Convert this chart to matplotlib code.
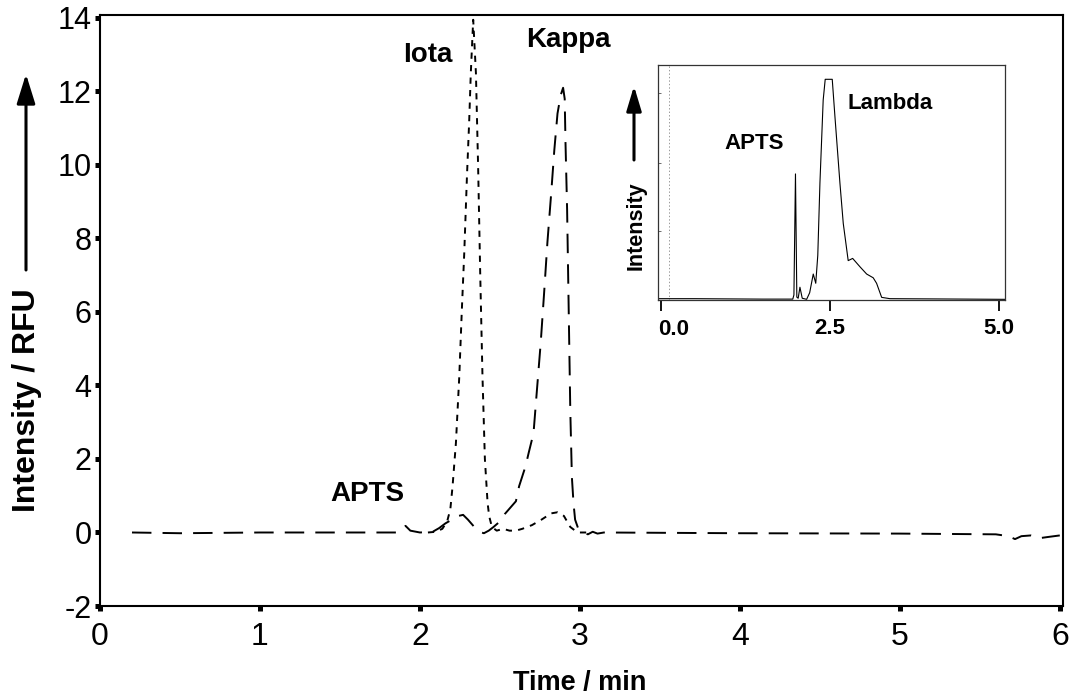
import matplotlib
matplotlib.use("Agg")
import matplotlib.pyplot as plt
from matplotlib import font_manager

# ---------------- data ----------------
kappa_x = [0.20, 0.50, 1.00, 1.50, 1.85, 1.88, 1.91, 1.94, 2.00, 2.08, 2.12, 2.16, 2.20,
           2.24, 2.27, 2.30, 2.34, 2.37, 2.40, 2.43, 2.46, 2.50, 2.53, 2.56, 2.60, 2.62,
           2.66, 2.68, 2.71, 2.73, 2.755, 2.776, 2.797, 2.82, 2.84, 2.86, 2.88, 2.895,
           2.905, 2.91, 2.92, 2.93, 2.94, 2.95, 2.96, 2.97, 2.99, 3.02, 3.05, 3.08, 3.11,
           3.15, 4.00, 5.00, 5.60, 5.68, 5.72, 5.76, 5.82, 5.88, 5.93, 6.00]
kappa_y = [0.00, -0.02, 0.00, 0.00, 0.00, 0.05, 0.18, 0.05, 0.00, 0.02, 0.12, 0.25, 0.35,
           0.45, 0.48, 0.35, 0.15, 0.02, -0.02, 0.05, 0.15, 0.30, 0.50, 0.65, 0.85, 1.26,
           1.80, 2.17, 2.70, 3.80, 5.16, 6.50, 7.90, 9.20, 10.4, 11.4, 11.9, 12.1,
           11.8, 10.6, 8.8, 6.06, 3.3, 1.5, 0.8, 0.35, 0.10, 0.00, -0.05, 0.02, -0.03,
           0.00, -0.02, -0.03, -0.05, -0.10, -0.18, -0.10, -0.08, -0.15, -0.12, -0.08]

iota_x = [2.05, 2.10, 2.14, 2.17, 2.19, 2.204, 2.225, 2.246, 2.262, 2.277, 2.294, 2.308,
          2.318, 2.333, 2.35, 2.364, 2.377, 2.391, 2.406, 2.423, 2.433, 2.45, 2.48, 2.52,
          2.56, 2.60, 2.64, 2.70, 2.76, 2.82, 2.86, 2.90, 2.94, 2.97, 3.00, 3.05]
iota_y = [0.00, 0.02, 0.10, 0.30, 0.63, 1.26, 2.44, 4.25, 6.06, 7.60, 9.70, 11.2,
          12.5, 13.95, 12.5, 9.9, 7.0, 4.25, 2.0, 0.8, 0.44, 0.15, 0.05, 0.10,
          0.05, 0.05, 0.10, 0.20, 0.35, 0.52, 0.55, 0.45, 0.15, 0.05, 0.00, 0.00]

lambda_x = [-0.04, 0.50, 1.00, 1.50, 1.95, 1.967, 1.99, 2.01, 2.03, 2.056, 2.09, 2.155,
            2.20, 2.253, 2.29, 2.32, 2.352, 2.40, 2.43, 2.534, 2.574, 2.648, 2.697, 2.77,
            2.836, 2.944, 3.043, 3.14, 3.19, 3.265, 3.388, 4.00, 5.09]
lambda_y = [0.3, 0.3, 0.2, 0.1, 0.1, 2.0, 57.0, 1.0, 0.5, 5.5, 0.5, 0.0,
            3.0, 11.5, 7.3, 20.0, 53.0, 90.6, 100.0, 100.0, 83.0, 52.7, 34.5, 17.6,
            18.6, 14.8, 11.5, 9.8, 7.3, 0.9, 0.3, 0.2, 0.0]

main_xticks = [0, 1, 2, 3, 4, 5, 6]
main_yticks = [-2, 0, 2, 4, 6, 8, 10, 12, 14]
inset_xticks = [0.0, 2.5, 5.0]
inset_xticklabels = ["0.0", "2.5", "5.0"]

# ---------------- fonts ----------------
names = {f.name for f in font_manager.fontManager.ttflist}
REG = "Liberation Sans" if "Liberation Sans" in names else "DejaVu Sans"
NARROW = "Liberation Sans Narrow" if "Liberation Sans Narrow" in names else REG
plt.rcParams["font.family"] = [REG, "DejaVu Sans"]
plt.rcParams["lines.scale_dashes"] = False

W, H = 1072, 697
fig = plt.figure(figsize=(W / 100, H / 100), dpi=100)

def fx(px):
    return px / W

def fy(py):
    return 1 - py / H

# ---------------- main axes ----------------
L, R, T, B = 100, 1063, 15, 606
ax = fig.add_axes([fx(L), fy(B), fx(R - L), (B - T) / H])
ax.plot(kappa_x, kappa_y, color="black", lw=1.4, linestyle=(0, (14, 8)))
ax.plot(iota_x, iota_y, color="black", lw=1.4, linestyle=(0, (4.5, 4.5)))
ax.set_xlim(0, 6.02)
ax.set_ylim(-2, 14.08)
for s in ax.spines.values():
    s.set_linewidth(1.5)
ax.set_xticks(main_xticks)
ax.set_yticks(main_yticks)
ax.set_xticklabels([str(v) for v in main_xticks], fontfamily=NARROW, fontsize=23)
ax.set_yticklabels([str(v) for v in main_yticks], fontfamily=REG, fontsize=22)
ax.tick_params(axis="y", direction="out", length=3.6, width=3.6, pad=2.5)
ax.tick_params(axis="x", direction="out", length=3.6, width=3.6, pad=8)

ax.text(2.05, 13.0, "Iota", fontsize=20, fontweight="bold", ha="center", va="center")
ax.text(2.93, 13.4, "Kappa", fontsize=20, fontweight="bold", ha="center", va="center")
ax.text(1.67, 1.05, "APTS", fontsize=20, fontweight="bold", ha="center", va="center")

fig.text(fx(27), fy(400), "Intensity / RFU", rotation=90, fontsize=23,
         fontweight="bold", ha="center", va="center")
fig.text(fx(580), fy(683), "Time / min", fontsize=19.5, fontweight="bold",
         fontfamily=NARROW, ha="center", va="center")
ax.annotate("", xy=(26, H - 74), xytext=(26, H - 270), xycoords="figure pixels",
            textcoords="figure pixels",
            arrowprops=dict(arrowstyle="-|>,head_width=0.28,head_length=0.9",
                            lw=2.2, color="black", mutation_scale=20,
                            shrinkA=0, shrinkB=0))

# ---------------- inset ----------------
IL, IR, IT, IB = 658, 1005, 65, 300
ia = fig.add_axes([fx(IL), fy(IB), fx(IR - IL), (IB - IT) / H])
ia.plot(lambda_x, lambda_y, color="black", lw=0.8)
ia.axvline(0.12, color="#999999", lw=0.7, linestyle=(0, (1, 1.5)))
ia.set_xlim(-0.044, 5.09)
ia.set_ylim(-0.3, 106.5)
for s in ia.spines.values():
    s.set_linewidth(0.9)
    s.set_color("#333333")
ia.set_xticks(inset_xticks)
# first label sits a little to the right of its tick in the original
ia.set_xticklabels([""] + inset_xticklabels[1:], fontsize=16, fontweight="bold")
ia.annotate(inset_xticklabels[0], xy=(inset_xticks[0], 0),
            xycoords=("data", "axes fraction"), xytext=(9, -14),
            textcoords="offset points", fontsize=16, fontweight="bold",
            ha="center", va="top")
ia.set_yticks([31, 62, 94])
ia.set_yticklabels([])
ia.tick_params(axis="x", direction="out", length=8, width=1.3, pad=5)
ia.tick_params(axis="y", direction="in", length=2, width=0.6, colors="#555555")
ia.text(1.38, 71, "APTS", fontsize=16, fontweight="bold", ha="center", va="center")
ia.text(3.39, 89, "Lambda", fontsize=16, fontweight="bold", ha="center", va="center")

fig.text(fx(636), fy(226), "Intensity", rotation=90, fontsize=15.5,
         fontweight="bold", ha="center", va="center")
ax.annotate("", xy=(634, H - 86), xytext=(634, H - 160), xycoords="figure pixels",
            textcoords="figure pixels",
            arrowprops=dict(arrowstyle="-|>,head_width=0.3,head_length=1.0",
                            lw=2.2, color="black", mutation_scale=15,
                            shrinkA=0, shrinkB=0))

fig.savefig("out.png", dpi=100)
